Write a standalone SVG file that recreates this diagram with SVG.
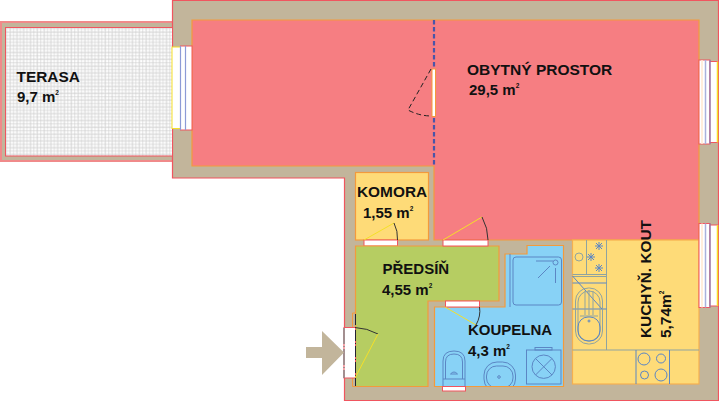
<svg xmlns="http://www.w3.org/2000/svg" width="719" height="401" viewBox="0 0 719 401">
<style>
text{font-family:"Liberation Sans",Arial,sans-serif;font-weight:700;fill:#111}
.sup{font-size:6.500px}
.wall{fill:#c2b59b;stroke:#f0555f;stroke-width:1.2}
.room{stroke:#f39a3c;stroke-width:1.2}
.fx{fill:none;stroke:#5b86c4;stroke-width:1}
.gx{fill:none;stroke:#8fa3a0;stroke-width:1}
.door{fill:#fff;stroke:#f0555f;stroke-width:1}
.leaf{stroke:#f5e028;stroke-width:1;fill:none}
.arc{stroke:#333;stroke-width:1;fill:none}
</style>
<defs>
<pattern id="grid" x="5" y="27" width="13.600" height="13.600" patternUnits="userSpaceOnUse">
<rect width="13.600" height="13.600" fill="#fff"/>
<path d="M5 0V13.600M12 0V13.600M0 5H13.600M0 12H13.600" stroke="#f3f3f3" stroke-width="2.200" fill="none"/>
<path d="M1.700 0V13.600M5.100 0V13.600M8.500 0V13.600M11.900 0V13.600M0 1.700H13.600M0 5.100H13.600M0 8.500H13.600M0 11.900H13.600" stroke="#cdcdcd" stroke-width=".6" fill="none"/>
</pattern>
<g id="win">
<rect x="0" y="0" width="11" height="84" class="door"/>
<rect x="11" y="1.500" width="8.500" height="81" fill="#fff" stroke="#f0555f" stroke-width="1"/>
<path d="M3 0V84" stroke="#ffe9d0" stroke-width="1.500"/>
<path d="M6.500 0V84" stroke="#a9b2dc" stroke-width="1.500"/>
<path d="M11 0V84" stroke="#6f80c2" stroke-width="1"/>
</g>
</defs>
<g id="walls">
<rect class="wall" x="1" y="22" width="172" height="139" style="stroke:#f08a8a;stroke-width:2"/>
<path class="wall" d="M172.500 .5H718.500V400.500H344.500V178H172.500Z"/>
</g>
<g id="terasa">
<rect x="5.500" y="27.500" width="167" height="128.500" fill="url(#grid)" stroke="#f0555f" stroke-width="1"/>
<text x="16.500" y="81.500" font-size="15.400">TERASA</text>
<text x="17" y="101.500" font-size="15">9,7 m<tspan class="sup" dy="-7">2</tspan></text>
</g>
<g id="obytny">
<path d="M192 20H699V240H434V166H192Z" fill="#f67e82" stroke="#f39a3c" stroke-width="1.200"/>
<path d="M434 20V166" stroke="#4a55a8" stroke-width="2.200" stroke-dasharray="4.500 2.500"/>
<rect x="432" y="69" width="3.500" height="47.500" fill="#fff" stroke="#f39a3c" stroke-width="1"/>
<path d="M431 69L408 110Q419 116 432 116" fill="none" stroke="#222" stroke-width="1" stroke-dasharray="5 3"/>
<text x="467" y="75" font-size="15.500">OBYTNÝ PROSTOR</text>
<text x="469" y="95" font-size="15">29,5 m<tspan class="sup" dy="-7">2</tspan></text>
</g>
<g id="komora">
<rect class="room" x="355.500" y="172.500" width="73" height="67.500" fill="#fedb78"/>
<rect class="door" x="364" y="240" width="33.500" height="6"/>
<path class="leaf" d="M364 240L394 223"/><path class="arc" d="M394 223Q398 231 397.500 240"/>
<text x="357" y="196.500" font-size="15.400">KOMORA</text>
<text x="363" y="217.500" font-size="15">1,55 m<tspan class="sup" dy="-7">2</tspan></text>
</g>
<g id="predsin">
<path class="room" d="M355.500 246H499V301H428V386.500H355.500Z" fill="#b6cd62"/>
<path d="M352.500 313H355.500V386.500H352.500Z" stroke="#f39a3c" stroke-width="1" fill="#c2b59b"/>
<rect class="door" x="443" y="240" width="45" height="6"/>
<path class="leaf" d="M443 240L482 217"/><path class="arc" d="M482 217Q488 228 488 240"/>
<rect x="344" y="327.500" width="11.500" height="50.500" class="door"/>
<path d="M355.500 314V386" stroke="#223" stroke-width="1" stroke-dasharray="11 2 1 2"/>
<path d="M344 328V378" stroke="#888" stroke-width="1.500" stroke-dasharray="16 2 1 2"/>
<path class="arc" d="M355 327.500Q367 328 378 334"/>
<path class="leaf" d="M378 334L355 378"/>
<text x="382.500" y="274" font-size="15">PŘEDSÍŇ</text>
<text x="382" y="295" font-size="15">4,55 m<tspan class="sup" dy="-7">2</tspan></text>
</g>
<g id="koupelna">
<path class="room" d="M434.500 307H505V254H527V245.500H563.500V386.500H434.500Z" fill="#88d2f6"/>
<rect class="door" x="445.500" y="301" width="34" height="6"/>
<path class="leaf" d="M445 307L476 325"/><path class="arc" d="M476 325Q481 316 479.500 307"/>
<path class="fx" d="M510 254V307"/>
<rect class="fx" x="513" y="257" width="48.500" height="48" rx="3"/>
<circle class="fx" cx="555.500" cy="262.500" r="2.500"/>
<path class="fx" d="M536 261H553M555.500 268V283M538 278L550 266"/>
<path class="fx" d="M443 386V361Q443 351 454 351Q465 351 465 361V386M443 379H465M445.500 379V362Q445.500 354 454 354Q462.500 354 462.500 362V379M450.500 374Q454 370 457.500 374Z"/>
<rect class="fx" x="484" y="362" width="31.500" height="30" rx="13"/>
<rect class="fx" x="486.500" y="366" width="26.500" height="22" rx="10"/>
<circle class="fx" cx="499" cy="377" r="1.300"/>
<path d="M480 387H520V393H480Z" fill="#c2b59b"/>
<path class="room" d="M434.500 386.500H563.500" fill="none"/>
<rect class="door" x="442.500" y="386.500" width="23" height="4.500"/>
<rect class="fx" x="526.500" y="350" width="34.500" height="34"/>
<rect class="fx" x="535" y="347.500" width="17" height="2.500"/>
<circle class="fx" cx="543.700" cy="366.700" r="11.700"/>
<path class="fx" d="M535.500 358.500L552 375M552 358.500L535.500 375"/>
<text x="468" y="335" font-size="15">KOUPELNA</text>
<text x="468" y="355.500" font-size="15">4,3 m<tspan class="sup" dy="-7">2</tspan></text>
</g>
<g id="kuchyn">
<rect x="572.500" y="240" width="126.500" height="144" fill="#fedb78" stroke="#f5b04f" stroke-width="1.200"/>
<path class="gx" d="M606.500 240V350M572.500 350H699M586.500 240V274M572.500 274.500H606.500M572.500 276.500H606.500"/>
<path class="fx" d="M636 350V384M669.500 350V384M572.500 283H606.500M572.500 309H606.500M572.500 276L602 309"/>
<circle class="gx" cx="579" cy="257" r="4"/>
<g class="fx">
<path d="M595 246H603M599 242V250M596 243L602 249M602 243L596 249"/>
<path d="M587 257H595M591 253V261M588 254L594 260M594 254L588 260"/>
<path d="M595 268H603M599 264V272M596 265L602 271M602 265L596 271"/>
</g>
<rect class="gx" x="575.500" y="288" width="27" height="56" rx="13"/>
<rect class="gx" x="578" y="291" width="22" height="50" rx="11"/>
<path class="gx" d="M580 316H598M585 291V315M589 290V315M593 291V315"/>
<rect class="fx" x="578" y="317" width="22" height="24" rx="10"/>
<circle class="fx" cx="589" cy="321" r="1"/>
<circle class="fx" cx="644" cy="359" r="6"/>
<circle class="fx" cx="661" cy="358.500" r="4.500"/>
<circle class="fx" cx="644.500" cy="375" r="4"/>
<circle class="fx" cx="661" cy="375" r="6"/>
<text transform="translate(651 338) rotate(-90)" font-size="15.400">KUCHYŇ. KOUT</text>
<text transform="translate(671 338) rotate(-90)" font-size="15.400">5,74m<tspan class="sup" dy="-7">2</tspan></text>
</g>
<g id="okna">
<use href="#win" x="699" y="60"/>
<use href="#win" x="699" y="223.500"/>
<rect x="172" y="47" width="8.500" height="81.500" fill="#fff" stroke="#f5e028" stroke-width="1"/>
<rect x="180.500" y="46" width="11.500" height="84" class="door"/>
<path d="M180.500 46V130M185.500 46V130" stroke="#8d9bd6" stroke-width="1.200"/>
<path d="M717.500 61.500V142.500M717.500 225V306" stroke="#f5e028" stroke-width="1.500"/>
</g>
<g id="connectors">
<path d="M306 347H322V331L344 352.500L322 375V358H306Z" fill="#c2b59b"/>
</g>
</svg>
